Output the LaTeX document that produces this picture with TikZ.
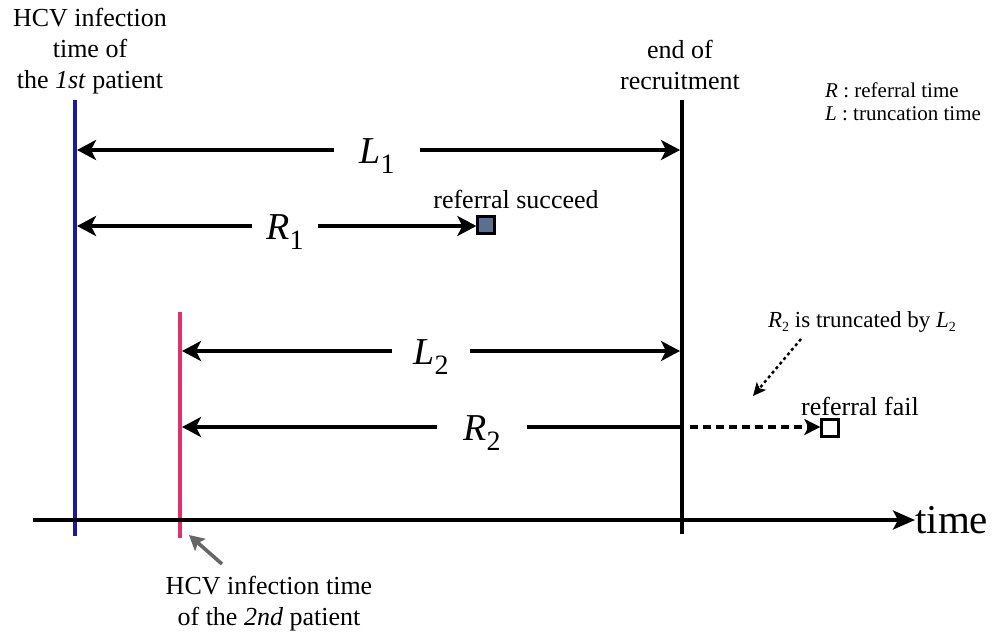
\documentclass[tikz,border=0pt]{standalone}
\usepackage{fontspec}
\setmainfont{Liberation Serif}
\usetikzlibrary{arrows.meta}
\definecolor{hcvblue}{HTML}{1A1A9C}
\definecolor{hcvpink}{HTML}{E0306E}
\definecolor{boxfill}{HTML}{5B7090}
\definecolor{pointer}{HTML}{666666}
\newcommand\bigsym[2]{{\itshape #1}\raisebox{-10pt}{\fontsize{28}{28}\selectfont #2}}
\newcommand\smallsym[2]{{\itshape #1}\raisebox{-4pt}{\fontsize{14}{14}\selectfont #2}}
\tikzset{
  txt/.style={font=\fontsize{26}{31}\selectfont, align=center, inner sep=0pt},
  legendtxt/.style={font=\fontsize{21}{23}\selectfont, inner sep=0pt, anchor=base west},
  notetxt/.style={font=\fontsize{23}{26}\selectfont, inner sep=0pt},
  biglbl/.style={font=\fontsize{38}{38}\selectfont, fill=white, inner xsep=0pt, inner ysep=2pt, anchor=base},
  tipstyle/.tip={Stealth[length=19pt,width=20pt,inset=5pt]},
  arr/.style={line width=3.3pt, tipstyle-tipstyle},
  vline/.style={line width=3.4pt},
  squarebox/.style={draw, line width=2.3pt, minimum size=17pt, inner sep=0pt}
}
\begin{document}
\begin{tikzpicture}[x=1pt,y=-1pt]
\useasboundingbox (0,0) rectangle (998,637);

% vertical lines
\coordinate (bt) at (75,100);
\coordinate (bb) at (75,536);
\coordinate (pt) at (180,312);
\coordinate (pb) at (180,538);
\coordinate (kt) at (682,100);
\coordinate (kb) at (682,534);
\draw[vline, hcvblue] (bt) -- (bb);
\draw[vline, hcvpink] (pt) -- (pb);
\draw[vline, black] (kt) -- (kb);

% time axis
\coordinate (ta) at (33,520);
\node[font=\fontsize{41}{41}\selectfont, inner sep=0pt, anchor=west] (time) at (915,520) {time};
\draw[line width=3.4pt, -{Stealth[length=22pt,width=19pt,inset=5pt]}] (ta) -- (time.west);

% texts on top
\node[txt] (first) at (90,51) {HCV infection\\time of\\the \textit{1st} patient};
\node[txt] (endrec) at (680,65) {end of\\recruitment};
\node[legendtxt] (legR) at (825,97) {\textit{R} : referral time};
\node[legendtxt] (legL) at (825,120) {\textit{L} : truncation time};

% L1
\coordinate (l1a) at (77,150);
\coordinate (l1b) at (680,150);
\draw[arr] (l1a) -- (l1b);
\node[biglbl, minimum width=86pt] (L1) at (377,163) {\bigsym{L}{1}};

% R1
\node[squarebox, fill=boxfill] (sq1) at (486,225) {};
\coordinate (r1a) at (77,226);
\draw[arr] (r1a) -- (sq1.west |- r1a);
\node[biglbl, minimum width=66pt] (R1) at (285,239) {\bigsym{R}{1}};
\node[txt] (succ) at (516,199) {referral succeed};

% L2
\coordinate (l2a) at (182,351);
\coordinate (l2b) at (680,351);
\draw[arr] (l2a) -- (l2b);
\node[biglbl, minimum width=78pt] (L2) at (431,364) {\bigsym{L}{2}};

% R2
\coordinate (r2a) at (182,427);
\coordinate (r2b) at (682,427);
\draw[line width=3.3pt, tipstyle-] (r2a) -- (r2b);
\node[biglbl, minimum width=90pt] (R2) at (482,440) {\bigsym{R}{2}};
\node[squarebox, fill=white] (sq2) at (830,428) {};
\draw[line width=3.3pt, dash pattern=on 8pt off 5pt, -{Stealth[length=16pt,width=16pt,inset=4pt]}] (r2b) ++(8,0) coordinate (r2c) (r2c) -- (sq2.west |- r2c);
\node[txt] (fail) at (860,406) {referral fail};

% truncation note
\node[notetxt] (note) at (862,322) {\smallsym{R}{2} is truncated by \smallsym{L}{2}};
\coordinate (na) at (801,339);
\coordinate (nb) at (753,396);
\draw[line width=2.4pt, dash pattern=on 3pt off 3pt, -{Stealth[length=13pt,width=12pt,inset=3pt]}] (na) -- (nb);

% bottom text and pointer
\node[txt] (second) at (269,604) {HCV infection time\\of the \textit{2nd} patient};
\coordinate (ga) at (222,564);
\coordinate (gb) at (189,535);
\draw[line width=3.6pt, pointer, -{Stealth[length=15pt,width=16pt,inset=3pt]}] (ga) -- (gb);
\end{tikzpicture}
\end{document}
